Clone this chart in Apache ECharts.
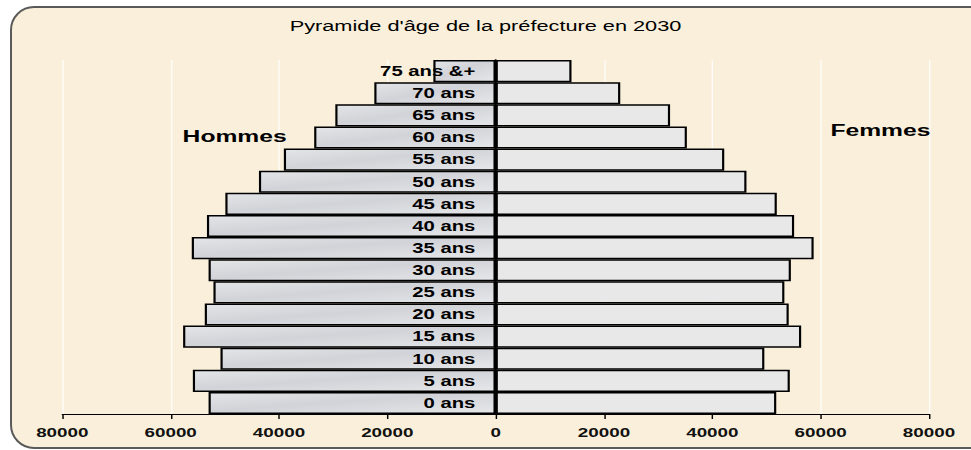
<!DOCTYPE html>
<html>
<head>
<meta charset="utf-8">
<style>
  html, body { margin: 0; padding: 0; background: #fff; overflow: hidden; }
  #frame {
    position: absolute; left: 10px; top: 6px; width: 990px; height: 439px;
    background: #f9efda; border: 2px solid #5a5a5a; border-radius: 24px;
  }
  /* the source picture is stretched sideways, so the chart is drawn narrow and widened */
  #chart {
    position: absolute; left: 0; top: 0; width: 670px; height: 450px;
    transform: scaleX(1.4493); transform-origin: 0 0;
  }
</style>
</head>
<body>
<div id="frame"></div>
<div id="chart"></div>
<script src="https://cdn.jsdelivr.net/npm/echarts@6/dist/echarts.min.js"></script>
<script type="text/javascript">
var ages = ['0 ans', '5 ans', '10 ans', '15 ans', '20 ans', '25 ans', '30 ans', '35 ans',
            '40 ans', '45 ans', '50 ans', '55 ans', '60 ans', '65 ans', '70 ans', '75 ans &+'];
var hommes = [53000, 55900, 50800, 57700, 53700, 52100, 53000, 56100,
              53300, 49900, 43700, 39100, 33500, 29600, 22400, 11500];
var femmes = [51800, 54300, 49600, 56400, 54100, 53300, 54500, 58700,
              55100, 51900, 46300, 42200, 35300, 32200, 23000, 14000];
var titre = "Pyramide d'âge de la préfecture en 2030";

var font = '"Liberation Sans", Arial, sans-serif';
var gridLeft = 43, gridRight = 29, chartWidth = 670;
// the age labels sit on the zero line: shift the left axis to the middle of the grid
var midOffset = (chartWidth - gridLeft - gridRight) / 2;

var myChart = echarts.init(document.getElementById('chart'), null, {renderer: 'svg'});

var option = {
    animation: false,
    title: {
        text: titre,
        left: 'center',
        top: 18,
        padding: 0,
        textStyle: { fontFamily: font, fontSize: 15, fontWeight: 'normal', color: '#000' }
    },
    graphic: [
        { type: 'text', left: 126, top: 127, z: 100,
          style: { text: 'Hommes', font: 'bold 17px ' + font, fill: '#000' } },
        { type: 'text', left: 573, top: 121, z: 100,
          style: { text: 'Femmes', font: 'bold 17px ' + font, fill: '#000' } }
    ],
    grid: {
        left: gridLeft, right: gridRight, top: 60, bottom: 36,
        containLabel: false, outerBoundsMode: 'none'
    },
    xAxis: {
        type: 'value',
        min: -80000,
        max: 80000,
        interval: 20000,
        axisLine: { show: true, onZero: false, lineStyle: { color: '#000', width: 1 } },
        axisTick: { show: true, length: 5, lineStyle: { color: '#000' } },
        axisLabel: {
            margin: 12,
            fontFamily: font, fontSize: 13, fontWeight: 'bold', color: '#111',
            formatter: function (v) { return String(Math.abs(v)); }
        },
        splitLine: { show: true, lineStyle: { color: '#ffffff', width: 1, opacity: 0.8 } }
    },
    yAxis: {
        type: 'category',
        data: ages,
        position: 'left',
        offset: -midOffset,
        axisLine: { show: true, onZero: false, lineStyle: { color: '#000', width: 1.5 } },
        axisTick: { show: false },
        axisLabel: {
            margin: 14,
            fontFamily: font, fontSize: 14, fontWeight: 'bold', color: '#000'
        },
        z: 10
    },
    series: [
        {
            name: 'Hommes',
            type: 'bar',
            data: hommes.map(function (v) { return -v; }),
            barCategoryGap: 0,
            barGap: '-100%',
            itemStyle: {
                color: new echarts.graphic.LinearGradient(0, 0, 1, 1, [
                    { offset: 0, color: '#e4e5e8' },
                    { offset: 0.45, color: '#d2d3d8' },
                    { offset: 1, color: '#e6e7ea' }
                ]),
                borderColor: '#000',
                borderWidth: 1.5
            }
        },
        {
            name: 'Femmes',
            type: 'bar',
            data: femmes,
            barCategoryGap: 0,
            barGap: '-100%',
            itemStyle: {
                color: '#e8e8e8',
                borderColor: '#000',
                borderWidth: 1.5
            }
        }
    ]
};

myChart.setOption(option);
</script>
</body>
</html>
